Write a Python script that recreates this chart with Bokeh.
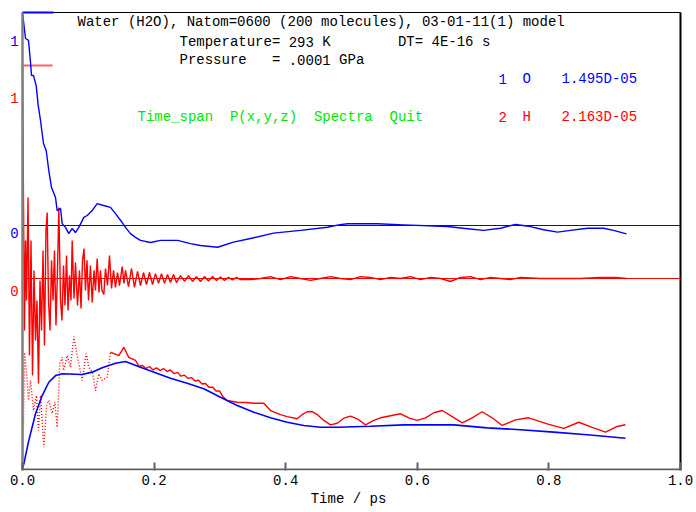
from bokeh.plotting import figure
from bokeh.models import Range1d, Label, FixedTicker, PrintfTickFormatter
from bokeh.embed import file_html
from bokeh.resources import INLINE

# ---- data -----------------------------------------------------------------
# normalised velocity autocorrelation function of O (time in ps)
t_o = [0.0, 0.0046, 0.0091, 0.0122, 0.0137, 0.0167, 0.0208, 0.0239, 0.0274, 0.0299,
       0.0319, 0.036, 0.040, 0.0441, 0.0502, 0.0527, 0.0578, 0.0603, 0.0653, 0.0704,
       0.0755, 0.0805, 0.0856, 0.0932, 0.0983, 0.1059, 0.1135, 0.1231, 0.1337, 0.1413,
       0.1515, 0.1565, 0.1641, 0.1717, 0.1793, 0.1945, 0.2097, 0.2356, 0.2553, 0.2705,
       0.2964, 0.3207, 0.3465, 0.3815, 0.4225, 0.4635, 0.4802, 0.4939, 0.5395, 0.5790,
       0.6459, 0.6763, 0.7006, 0.7264, 0.7492, 0.7720, 0.7918, 0.8131, 0.8328, 0.8587,
       0.8830, 0.8982, 0.9179]
vacf_o = [1.0, 0.878, 0.869, 0.765, 0.704, 0.704, 0.657, 0.563, 0.493, 0.432,
          0.385, 0.352, 0.258, 0.178, 0.131, 0.070, 0.080, 0.009, -0.009, -0.038,
          -0.014, -0.033, -0.009, 0.038, 0.047, 0.070, 0.103, 0.094, 0.085, 0.056,
          0.014, -0.009, -0.038, -0.056, -0.070, -0.080, -0.070, -0.070, -0.085, -0.094,
          -0.102, -0.078, -0.061, -0.036, -0.023, -0.008, 0.003, 0.008, 0.008, 0.003,
          -0.005, -0.015, -0.023, -0.013, 0.005, -0.005, -0.020, -0.031, -0.023, -0.013,
          -0.013, -0.023, -0.039]

# normalised velocity autocorrelation function of H
t_h = [0.0, 0.0015, 0.0030, 0.0046, 0.0061, 0.0084, 0.0106, 0.0129, 0.0152, 0.0175,
       0.0198, 0.0220, 0.0243, 0.0266, 0.0289, 0.0312, 0.0334, 0.0357, 0.0375, 0.0395,
       0.0418, 0.0441, 0.0464, 0.0486, 0.0509, 0.0532, 0.0552, 0.0578, 0.0600, 0.0623,
       0.0646, 0.0669, 0.0692, 0.0714, 0.0737, 0.0755, 0.0783, 0.0805, 0.0836, 0.0866,
       0.0889, 0.0912, 0.0935, 0.0957, 0.0980, 0.1003, 0.1033, 0.1059, 0.1087, 0.1109,
       0.1135, 0.1163, 0.1185, 0.1208, 0.1236, 0.1261, 0.1292, 0.1322, 0.1353, 0.1383,
       0.1413, 0.1444, 0.1474, 0.1515, 0.1543,
       0.1565, 0.1611, 0.1657, 0.1702, 0.1748, 0.1793, 0.1839, 0.1884, 0.1930, 0.1976,
       0.2021, 0.2067, 0.2112, 0.2158, 0.2204, 0.2249, 0.2295, 0.2340, 0.2401, 0.2462,
       0.2523, 0.2584, 0.2644, 0.2705, 0.2766, 0.2827, 0.2888, 0.2948, 0.3009, 0.3070,
       0.3131, 0.3191, 0.3252, 0.3313, 0.3465, 0.3617, 0.3769, 0.3921, 0.4073, 0.4225,
       0.4377, 0.4529, 0.4681, 0.4833, 0.4985, 0.5137, 0.5289, 0.5441, 0.5593, 0.5745,
       0.5897, 0.6049, 0.6201, 0.6353, 0.6505, 0.6657, 0.6809, 0.6960, 0.7112, 0.7264,
       0.7416, 0.7568, 0.7872, 0.8176, 0.8480, 0.8784, 0.9012, 0.9179]
vacf_h = [1.0, 0.366, -0.244, 0.178, -0.103, 0.380, -0.362, 0.178, -0.455, 0.038,
          -0.291, -0.103, -0.493, -0.009, -0.244, 0.131, -0.315, 0.225, 0.310, -0.103,
          -0.244, 0.085, -0.103, 0.131, -0.221, 0.038, 0.333, -0.103, -0.197, 0.061,
          -0.127, 0.108, -0.150, 0.014, -0.103, 0.178, -0.094, 0.075, -0.127, 0.038,
          -0.141, 0.085, 0.141, -0.056, 0.085, -0.103, 0.061, -0.113, 0.038, -0.056,
          0.094, -0.066, 0.038, -0.056, -0.075, 0.047, -0.033, 0.108, -0.047, 0.038,
          -0.042, 0.028, -0.033, 0.056, -0.023,
          0.038, -0.038, 0.047, -0.042, 0.033, -0.033, 0.028, -0.028, 0.028, -0.028,
          0.023, -0.023, 0.023, -0.023, 0.019, -0.019, 0.019, -0.019, 0.014, -0.014,
          0.014, -0.014, 0.009, -0.014, 0.009, -0.012, 0.009, -0.009, 0.007, -0.009,
          0.005, -0.007, 0.005, -0.005, -0.005, 0.0, 0.009, -0.005, 0.009, 0.0,
          -0.009, 0.0, 0.009, 0.0, -0.005, 0.009, 0.005, -0.005, 0.005, 0.0,
          0.009, -0.005, 0.005, 0.0, -0.014, 0.005, 0.009, -0.005, 0.005, 0.0,
          -0.005, 0.005, 0.0, 0.0, 0.0, 0.005, 0.005, 0.0]

# running diffusion coefficient of O, 1e-5 cm^2/s
t_do = [0.0, 0.002, 0.0096, 0.0198, 0.0299, 0.040, 0.0502, 0.0603, 0.0907, 0.1059,
        0.1211, 0.1413, 0.1565, 0.1793, 0.2249, 0.2503, 0.2755, 0.3009, 0.3263, 0.3515,
        0.3769, 0.4023, 0.4275, 0.4529, 0.4783, 0.5289, 0.5795, 0.6555, 0.7062, 0.7568,
        0.8075, 0.8582, 0.8834, 0.9164]
d_o = [0.0, 0.23, 1.39, 2.71, 3.61, 4.27, 4.60, 4.69, 4.65, 4.77,
       4.99, 5.21, 5.30, 5.01, 4.47, 4.22, 3.95, 3.53, 3.12, 2.79,
       2.51, 2.29, 2.13, 2.04, 2.04, 2.09, 2.16, 2.16, 2.01, 1.92,
       1.80, 1.67, 1.60, 1.495]

# running diffusion coefficient of H, 1e-5 cm^2/s (short-time part, dotted)
t_dh_early = [0.0, 0.0015, 0.0030, 0.0061, 0.0091, 0.0122, 0.0167, 0.0213, 0.0243, 0.0274,
              0.0324, 0.0365, 0.0400, 0.0451, 0.0491, 0.0527, 0.0567, 0.0603, 0.0623, 0.0653,
              0.0679, 0.0729, 0.0780, 0.0831, 0.0907, 0.0968, 0.1008, 0.1064, 0.1109, 0.1160,
              0.1211, 0.1287, 0.1337]
d_h_early = [0.0, 2.38, 5.74, 4.75, 3.37, 4.36, 2.87, 3.61, 1.88, 3.61,
             1.05, 3.12, 3.37, 2.72, 3.28, 2.04, 5.20, 5.51, 4.85, 5.20,
             5.59, 5.01, 6.53, 5.59, 4.36, 5.69, 5.01, 4.75, 3.86, 4.69,
             4.36, 4.52, 5.76]
# running diffusion coefficient of H, long-time part
t_dh = [0.1337, 0.1464, 0.1540, 0.1615, 0.1717, 0.1771, 0.1824, 0.1877, 0.1930, 0.1983,
        0.2036, 0.2090, 0.2143, 0.2196, 0.2249, 0.2302, 0.2356, 0.2409, 0.2462, 0.2515,
        0.2568, 0.2622, 0.2675, 0.2728, 0.2781, 0.2834, 0.2888, 0.2941, 0.2994, 0.3047,
        0.3111, 0.3263, 0.3404, 0.3511, 0.3667, 0.3769, 0.3921, 0.4023, 0.4175, 0.4251,
        0.4327, 0.4403, 0.4479, 0.4579, 0.4681, 0.4783, 0.4883, 0.4985, 0.5087, 0.5213,
        0.5339, 0.5441, 0.5593, 0.5745, 0.5871, 0.5998, 0.6125, 0.6251, 0.6378, 0.6530,
        0.6682, 0.6834, 0.6986, 0.7138, 0.7290, 0.7492, 0.7694, 0.7974, 0.8226, 0.8454,
        0.8658, 0.8860, 0.9038, 0.9164]
d_h = [5.76, 5.59, 6.00, 5.50, 5.35, 5.05, 5.10, 4.95, 5.05, 4.88,
       4.98, 4.85, 4.95, 4.80, 4.88, 4.70, 4.76, 4.57, 4.62, 4.46,
       4.50, 4.33, 4.37, 4.18, 4.21, 4.02, 4.03, 3.84, 3.84, 3.55,
       3.37, 3.28, 3.27, 3.23, 3.23, 2.87, 2.67, 2.57, 2.46, 2.67,
       2.81, 2.82, 2.67, 2.38, 2.16, 2.24, 2.49, 2.59, 2.46, 2.16,
       2.38, 2.51, 2.61, 2.71, 2.51, 2.38, 2.51, 2.76, 2.87, 2.57,
       2.26, 2.51, 2.81, 2.51, 2.13, 2.41, 2.51, 2.21, 1.99, 2.29,
       2.04, 1.80, 2.08, 2.163]

x_ticks = [0.0, 0.2, 0.4, 0.6, 0.8, 1.0]

header = "Water (H2O), Natom=0600 (200 molecules), 03-01-11(1) model"
conditions = ["Temperature= 293 K        DT= 4E-16 s",
              "Pressure   = .0001 GPa"]
menu = "Time_span  P(x,y,z)  Spectra  Quit"
species = [("1", "O", "1.495D-05"), ("2", "H", "2.163D-05")]

# ---- layout (pixels on the 696 x 512 canvas) --------------------------------
W, H = 696, 512
FL, FR, FT, FB = 22, 680, 12, 470          # plot box edges
UNIT = 213.0                               # pixels per unit of VACF
ZERO_O, ZERO_H = 225, 278                  # pixel rows of the two VACF zeros
D_ZERO, D_UNIT = 468, 20.2                 # zero row and pixels per 1e-5 cm^2/s
CW = 8.4                                   # monospace character cell width

BLUE, RED, GREEN = "#0000ff", "#ff0000", "#00e600"
FONT = "Liberation Mono"


def xd(px):
    return (px - FL) / (FR - FL)


def yd(py):
    return (ZERO_O - py) / UNIT


p = figure(width=W, height=H, output_backend="svg", toolbar_location=None,
           x_range=Range1d(xd(0), xd(W)), y_range=Range1d(yd(FB), yd(0)),
           y_axis_location=None, x_axis_location="below",
           min_border_left=0, min_border_right=0,
           min_border_top=0, min_border_bottom=H - FB)
p.extra_y_ranges = {
    "h": Range1d((ZERO_H - FB) / UNIT, ZERO_H / UNIT),
    "d": Range1d((D_ZERO - FB) / D_UNIT, D_ZERO / D_UNIT),
}
p.grid.visible = False
p.background_fill_color = "white"
p.border_fill_color = "white"
p.outline_line_color = None

ax = p.xaxis[0]
ax.ticker = FixedTicker(ticks=x_ticks)
ax.formatter = PrintfTickFormatter(format="%.1f")
ax.axis_line_color = None
ax.major_tick_in = 8
ax.major_tick_out = 0
ax.major_tick_line_color = "#606060"
ax.major_tick_line_width = 2
ax.minor_tick_line_color = None
ax.major_label_standoff = 4
ax.major_label_text_font = FONT
ax.major_label_text_font_size = "14px"
ax.major_label_text_color = "black"
ax.axis_label = "Time / ps"
ax.axis_label_text_font = FONT
ax.axis_label_text_font_size = "14px"
ax.axis_label_text_font_style = "normal"
ax.axis_label_text_color = "black"
ax.axis_label_standoff = 3

# plot box
p.line([0, 1], [yd(FT), yd(FT)], line_color="black", line_width=1.2)
p.line([1, 1], [yd(FT), yd(FB)], line_color="black", line_width=2)
p.line([0, 1], [yd(FB - 1), yd(FB - 1)], line_color="#606060", line_width=2)

# zero lines and unit markers
p.line([0, 1], [0, 0], line_color=BLUE, line_width=1.2)
p.line([0, 1], [0, 0], y_range_name="h", line_color=RED, line_width=1.2)
p.line([0, xd(53)], [1, 1], line_color=BLUE, line_width=2)
p.line([0, xd(52)], [1, 1], y_range_name="h", line_color="#ff6060", line_width=2)

# curves
p.line(t_h, vacf_h, y_range_name="h", line_color=RED, line_width=1.4)
p.line(t_dh_early, d_h_early, y_range_name="d", line_color=RED, line_width=1.4,
       line_dash="1 2")
p.line(t_dh, d_h, y_range_name="d", line_color=RED, line_width=1.4)
p.line(t_o, vacf_o, line_color=BLUE, line_width=1.4)
p.line(t_do, d_o, y_range_name="d", line_color=BLUE, line_width=1.6)

# left edge of the plot box
p.line([0, 0], [yd(FT), yd(FB)], line_color="#808080", line_width=2.5)


def label(px, py, text, color="black", align="left"):
    p.add_layout(Label(x=xd(px), y=yd(py), text=text, text_color=color,
                       text_align=align, text_baseline="middle",
                       text_font=FONT, text_font_size="14px"))


def mono(px, py, line, color="black"):
    # place each word of a fixed-pitch line in its own character cell
    i = 0
    for word in line.split(" "):
        if word:
            label(px + i * CW, py, word, color)
        i += len(word) + 1


mono(77, 21, header)
mono(179, 41, conditions[0])
mono(179, 59, conditions[1])
mono(137, 116, menu, GREEN)
for (num, atom, dval), row, col in zip(species, (78, 116), (BLUE, RED)):
    label(498, row, num, col)
    label(522, row, atom, col)
    label(561, row, dval, col)

label(14, 40, "1", BLUE, "center")
label(14, 97, "1", RED, "center")
label(14, 232, "0", BLUE, "center")
label(14, 290, "0", RED, "center")

open("out.html", "w").write(file_html(p, INLINE))
